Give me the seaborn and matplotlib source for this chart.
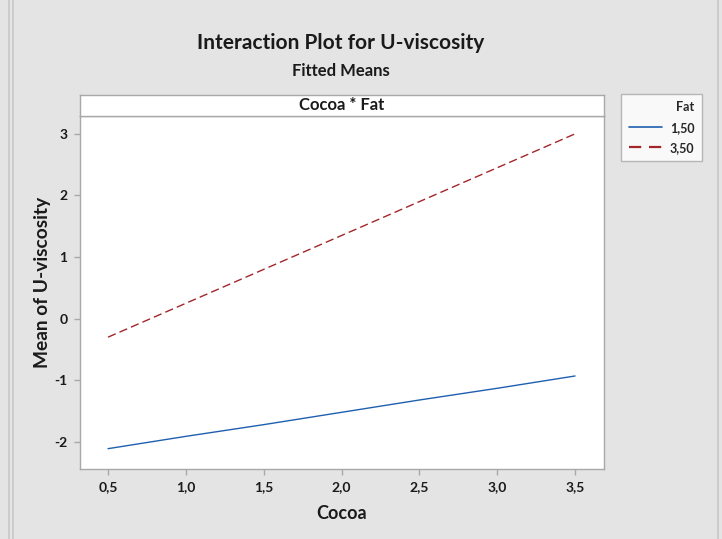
import matplotlib
matplotlib.use("Agg")
import matplotlib.pyplot as plt
from matplotlib.lines import Line2D
import seaborn as sns
import pandas as pd

# Fitted means of U-viscosity by Cocoa level for each Fat level
cocoa = [0.5, 1.0, 1.5, 2.0, 2.5, 3.0, 3.5]
fat_levels = ["1,50", "3,50"]
mean_fat_150 = [-2.11, -1.91, -1.72, -1.52, -1.32, -1.13, -0.93]
mean_fat_350 = [-0.30, 0.25, 0.80, 1.35, 1.90, 2.45, 3.00]

x_ticks = [0.5, 1.0, 1.5, 2.0, 2.5, 3.0, 3.5]
y_ticks = [-2, -1, 0, 1, 2, 3]

df = pd.DataFrame({
    "Cocoa": cocoa * 2,
    "Mean": mean_fat_150 + mean_fat_350,
    "Fat": [fat_levels[0]] * len(cocoa) + [fat_levels[1]] * len(cocoa),
})

sns.set_theme(style="white")
plt.rcParams["font.family"] = ["Lato", "DejaVu Sans"]

W = "bold"
BG = "#e4e4e4"
EDGE = "#a8a8a8"
TXT = "#1a1a1a"
palette = {"1,50": "#1f5fb0", "3,50": "#a3262a"}

fig = plt.figure(figsize=(7.22, 5.39), dpi=100, facecolor=BG)

# window border lines
for xpos in (8.5 / 722, 13.5 / 722, 717.5 / 722):
    fig.add_artist(Line2D([xpos, xpos], [0, 1], transform=fig.transFigure,
                          color="#c8c8c8", lw=1.2))

ax = fig.add_axes([80 / 722, 1 - 469 / 539, 524 / 722, 353 / 539])
ax.set_facecolor("white")
sns.lineplot(data=df, x="Cocoa", y="Mean", hue="Fat", style="Fat",
             palette=palette, dashes={"1,50": "", "3,50": (6, 3)},
             linewidth=1.0, ax=ax, legend=False)

ax.set_xlim(0.32, 3.686)
ax.set_ylim(-2.44, 3.29)
ax.set_xticks(x_ticks)
ax.set_xticklabels([f"{v:.1f}".replace(".", ",") for v in x_ticks])
ax.set_yticks(y_ticks)
ax.set_yticklabels([str(v).replace("\u2212", "-") for v in y_ticks])
ax.tick_params(axis="both", which="major", direction="out", length=4,
               width=1, color=EDGE, labelsize=10, labelcolor=TXT,
               bottom=True, left=True, pad=5)
for lab in ax.get_xticklabels() + ax.get_yticklabels():
    lab.set_fontweight(W)
for sp in ax.spines.values():
    sp.set_color(EDGE)
    sp.set_linewidth(1.0)
ax.set_xlabel("Cocoa", fontsize=13, color=TXT, labelpad=8, fontweight=W)
ax.set_ylabel("Mean of U-viscosity", fontsize=13.8, color=TXT, fontweight=W)
ax.yaxis.set_label_coords(-0.056, 0.53)

# panel strip
strip = fig.add_axes([80 / 722, 1 - 116 / 539, 524 / 722, 21 / 539])
strip.set_facecolor("white")
strip.set_xticks([])
strip.set_yticks([])
for sp in strip.spines.values():
    sp.set_color(EDGE)
    sp.set_linewidth(1.0)
strip.text(0.5, 0.5, "Cocoa * Fat", ha="center", va="center",
           fontsize=12, color=TXT, fontweight=W, transform=strip.transAxes)

# titles
fig.text(341 / 722, 1 - 43 / 539, "Interaction Plot for U-viscosity",
         ha="center", va="center", fontsize=15, color=TXT, fontweight=W)
fig.text(341 / 722, 1 - 71 / 539, "Fitted Means",
         ha="center", va="center", fontsize=12, color=TXT, fontweight=W)

# legend
handles = [Line2D([], [], color=palette["1,50"], lw=1.2),
           Line2D([], [], color=palette["3,50"], lw=1.6, dashes=(5.5, 3.5))]
leg = fig.legend(handles, fat_levels, title="Fat",
                 loc="upper left", bbox_to_anchor=(621 / 722, 1 - 94 / 539),
                 borderaxespad=0, frameon=True, fancybox=False, fontsize=9,
                 title_fontsize=9, alignment="right",
                 handlelength=2.7, handletextpad=0.6, borderpad=0.6,
                 labelspacing=0.65)
leg.get_title().set_fontweight(W)
for t in leg.get_texts():
    t.set_fontweight(W)
leg.get_frame().set_edgecolor(EDGE)
leg.get_frame().set_linewidth(1.0)
leg.get_frame().set_facecolor("white")

fig.savefig("out.png", dpi=100, facecolor=BG)
